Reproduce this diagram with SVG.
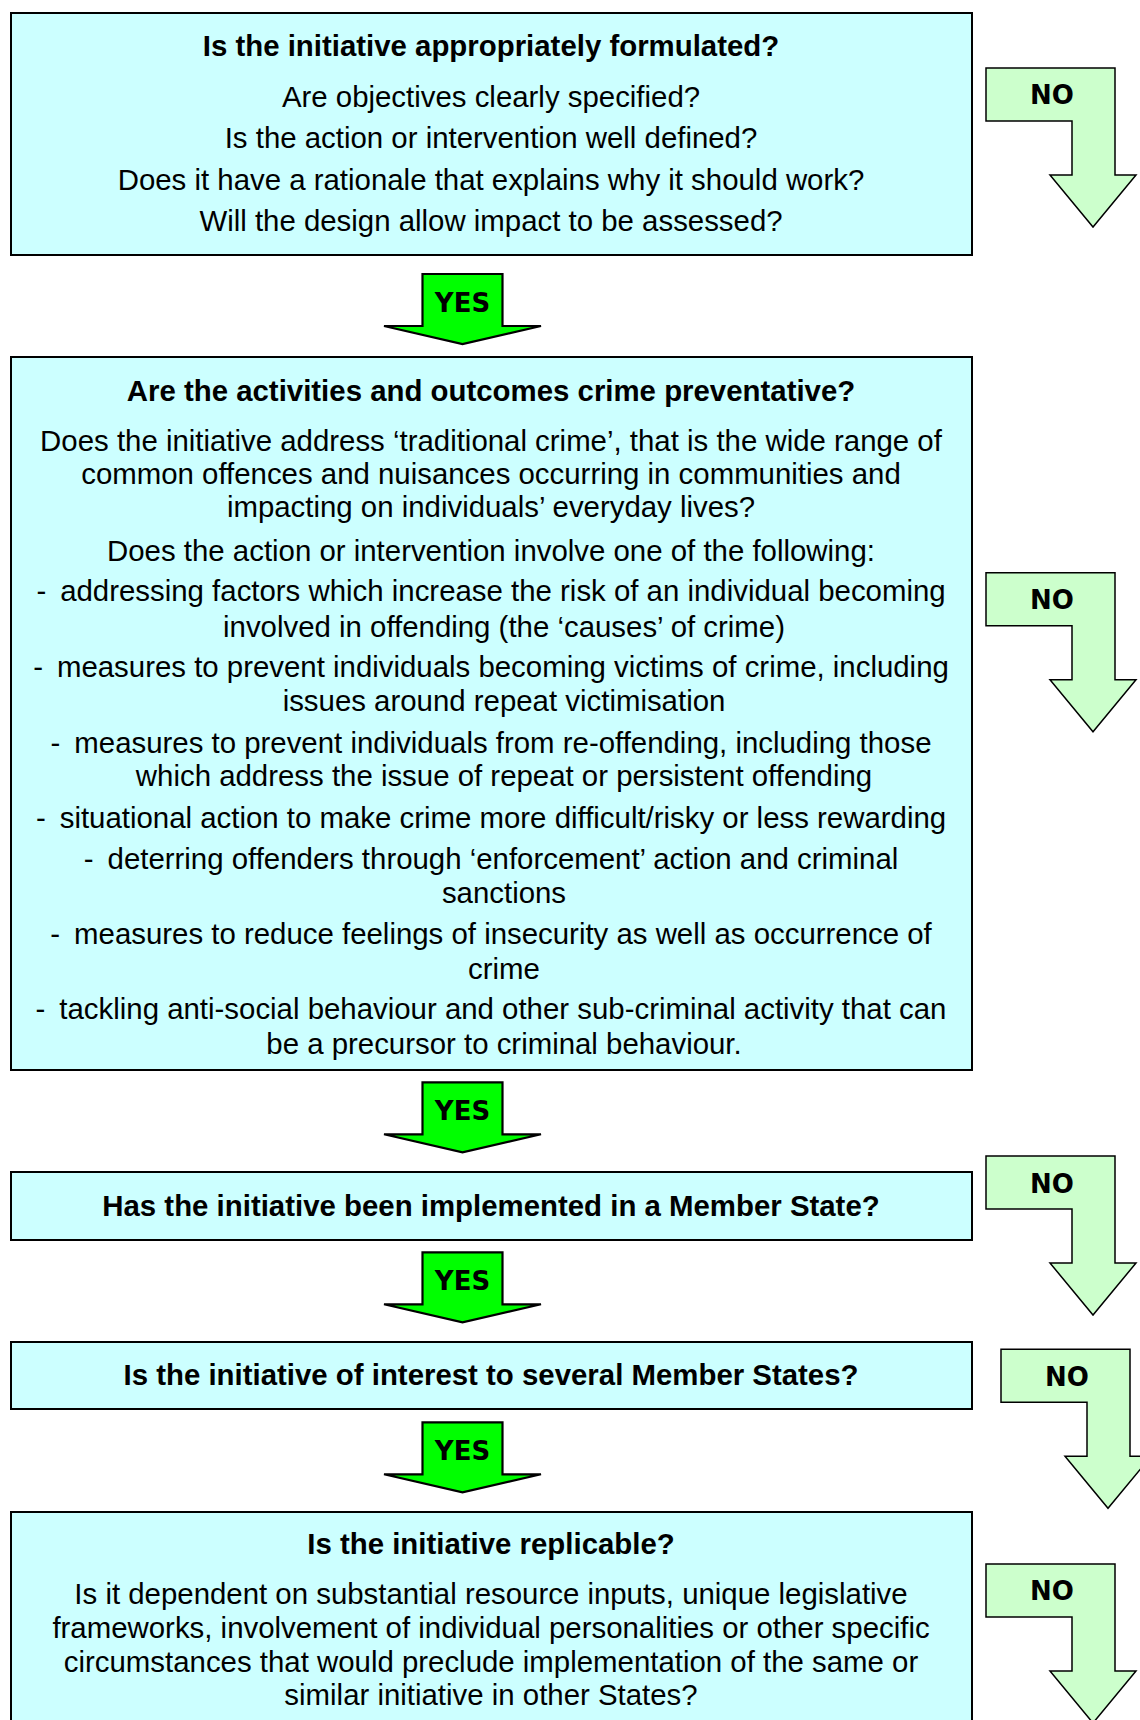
<svg xmlns="http://www.w3.org/2000/svg" xmlns:xlink="http://www.w3.org/1999/xlink" width="1140" height="1720" viewBox="0 0 1140 1720">
<style>
.box { fill:#ccffff; stroke:#000; stroke-width:2; }
.t { font-family:"Liberation Sans", Arial, sans-serif; font-size:29.4px; fill:#000; text-anchor:middle; }
.b { font-weight:bold; }
.yes { fill:#00ff00; stroke:#000; stroke-width:2.2; stroke-linejoin:miter; }
.no { fill:#ccffcc; stroke:#000; stroke-width:1.5; }
.lbl { font-family:"DejaVu Sans", Verdana, sans-serif; font-weight:bold; font-size:26px; fill:#000; text-anchor:middle; }
</style>
<defs>
<path id="yesArrow" d="M422.5,0 H502.5 V52 H541 L462.5,70 L384,52 H422.5 Z"/>
<path id="noArrow" d="M986,0 H1115 V107 H1136 L1093,159 L1050,107 H1072 V53 H986 Z"/>
</defs>
<rect width="1140" height="1720" fill="#fff"/>

<g id="box1">
<rect class="box" x="11" y="13" width="961" height="242"/>
<text class="t b" x="491" y="56">Is the initiative appropriately formulated?</text>
<text class="t" x="491" y="106.5">Are objectives clearly specified?</text>
<text class="t" x="491" y="148.2">Is the action or intervention well defined?</text>
<text class="t" x="491" y="189.8">Does it have a rationale that explains why it should work?</text>
<text class="t" x="491" y="231.2">Will the design allow impact to be assessed?</text>
</g>

<g id="box2">
<rect class="box" x="11" y="357" width="961" height="713"/>
<text class="t b" x="491" y="401.2">Are the activities and outcomes crime preventative?</text>
<text class="t" x="491" y="450.5">Does the initiative address ‘traditional crime’, that is the wide range of</text>
<text class="t" x="491" y="483.8">common offences and nuisances occurring in communities and</text>
<text class="t" x="491" y="517.2">impacting on individuals’ everyday lives?</text>
<text class="t" x="491" y="560.5">Does the action or intervention involve one of the following:</text>
<text class="t" x="491" y="601.2">-<tspan dx="14">addressing factors which increase the risk of an individual becoming</tspan></text>
<text class="t" x="504" y="636.5">involved in offending (the ‘causes’ of crime)</text>
<text class="t" x="491" y="676.5">-<tspan dx="14">measures to prevent individuals becoming victims of crime, including</tspan></text>
<text class="t" x="504" y="711.2">issues around repeat victimisation</text>
<text class="t" x="491" y="752.8">-<tspan dx="14">measures to prevent individuals from re-offending, including those</tspan></text>
<text class="t" x="504" y="786.2">which address the issue of repeat or persistent offending</text>
<text class="t" x="491" y="827.8">-<tspan dx="14">situational action to make crime more difficult/risky or less rewarding</tspan></text>
<text class="t" x="491" y="868.8">-<tspan dx="14">deterring offenders through ‘enforcement’ action and criminal</tspan></text>
<text class="t" x="504" y="903.2">sanctions</text>
<text class="t" x="491" y="943.8">-<tspan dx="14">measures to reduce feelings of insecurity as well as occurrence of</tspan></text>
<text class="t" x="504" y="978.8">crime</text>
<text class="t" x="491" y="1018.8">-<tspan dx="14">tackling anti-social behaviour and other sub-criminal activity that can</tspan></text>
<text class="t" x="504" y="1053.8">be a precursor to criminal behaviour.</text>
</g>

<g id="box3">
<rect class="box" x="11" y="1172" width="961" height="68"/>
<text class="t b" x="491" y="1216">Has the initiative been implemented in a Member State?</text>
</g>

<g id="box4">
<rect class="box" x="11" y="1342" width="961" height="67"/>
<text class="t b" x="491" y="1385.4">Is the initiative of interest to several Member States?</text>
</g>

<g id="box5">
<rect class="box" x="11" y="1512" width="961" height="230"/>
<text class="t b" x="491" y="1553.7">Is the initiative replicable?</text>
<text class="t" x="491" y="1603.7">Is it dependent on substantial resource inputs, unique legislative</text>
<text class="t" x="491" y="1637.7">frameworks, involvement of individual personalities or other specific</text>
<text class="t" x="491" y="1672.1">circumstances that would preclude implementation of the same or</text>
<text class="t" x="491" y="1705.4">similar initiative in other States?</text>
</g>

<g id="connectors">
<g id="yes1"><use xlink:href="#yesArrow" class="yes" transform="translate(0,274)"/><text class="lbl" x="462.5" y="311.7">YES</text></g>
<g id="yes2"><use xlink:href="#yesArrow" class="yes" transform="translate(0,1082.3)"/><text class="lbl" x="462.5" y="1120">YES</text></g>
<g id="yes3"><use xlink:href="#yesArrow" class="yes" transform="translate(0,1252.3)"/><text class="lbl" x="462.5" y="1290">YES</text></g>
<g id="yes4"><use xlink:href="#yesArrow" class="yes" transform="translate(0,1422.3)"/><text class="lbl" x="462.5" y="1460">YES</text></g>
<g id="no1"><use xlink:href="#noArrow" class="no" transform="translate(0,68)"/><text class="lbl" x="1052" y="104">NO</text></g>
<g id="no2"><use xlink:href="#noArrow" class="no" transform="translate(0,572.7)"/><text class="lbl" x="1052" y="609">NO</text></g>
<g id="no3"><use xlink:href="#noArrow" class="no" transform="translate(0,1156)"/><text class="lbl" x="1052" y="1192.5">NO</text></g>
<g id="no4"><use xlink:href="#noArrow" class="no" transform="translate(15,1349.3)"/><text class="lbl" x="1067" y="1386">NO</text></g>
<g id="no5"><use xlink:href="#noArrow" class="no" transform="translate(0,1564)"/><text class="lbl" x="1052" y="1600">NO</text></g>
</g>
</svg>
